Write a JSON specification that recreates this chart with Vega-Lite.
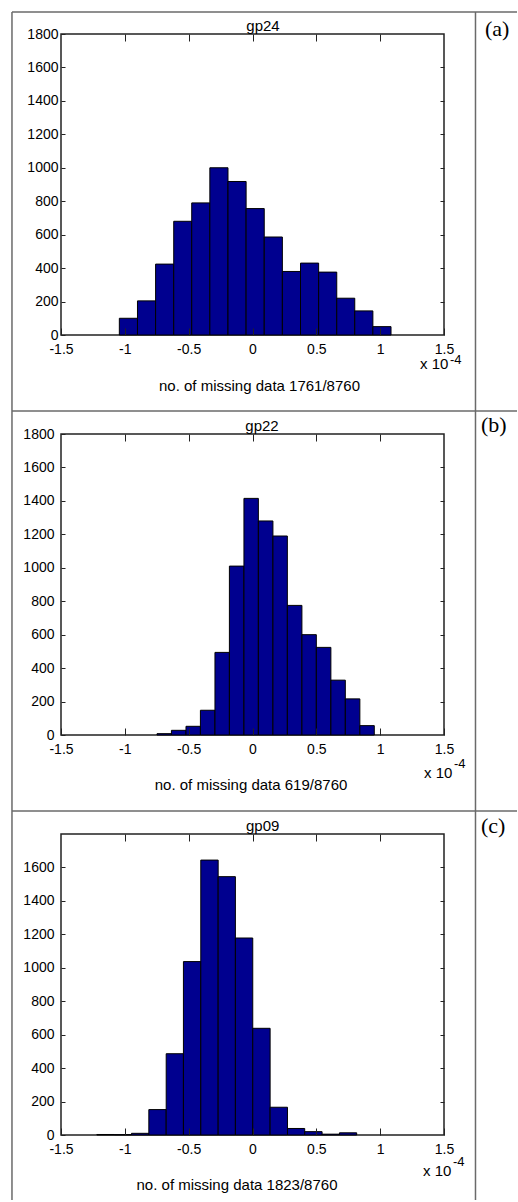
{
  "$schema": "https://vega.github.io/schema/vega-lite/v6.json",
  "background": "white",
  "padding": {"left": 10, "top": 10, "right": 0, "bottom": 0},
  "autosize": {"type": "pad"},
  "bounds": "flush",
  "spacing": 99,
  "datasets": {
    "gp24": [
      {"bin_start": -1.043, "bin_end": -0.901, "count": 100},
      {"bin_start": -0.901, "bin_end": -0.759, "count": 204},
      {"bin_start": -0.759, "bin_end": -0.617, "count": 424},
      {"bin_start": -0.617, "bin_end": -0.476, "count": 680},
      {"bin_start": -0.476, "bin_end": -0.334, "count": 790},
      {"bin_start": -0.334, "bin_end": -0.192, "count": 1000},
      {"bin_start": -0.192, "bin_end": -0.05, "count": 918},
      {"bin_start": -0.05, "bin_end": 0.092, "count": 756},
      {"bin_start": 0.092, "bin_end": 0.234, "count": 586},
      {"bin_start": 0.234, "bin_end": 0.376, "count": 380},
      {"bin_start": 0.376, "bin_end": 0.518, "count": 430},
      {"bin_start": 0.518, "bin_end": 0.66, "count": 376},
      {"bin_start": 0.66, "bin_end": 0.801, "count": 220},
      {"bin_start": 0.801, "bin_end": 0.943, "count": 144},
      {"bin_start": 0.943, "bin_end": 1.085, "count": 50}
    ],
    "gp22": [
      {"bin_start": -0.748, "bin_end": -0.635, "count": 8},
      {"bin_start": -0.635, "bin_end": -0.521, "count": 28},
      {"bin_start": -0.521, "bin_end": -0.408, "count": 52},
      {"bin_start": -0.408, "bin_end": -0.294, "count": 148},
      {"bin_start": -0.294, "bin_end": -0.181, "count": 494},
      {"bin_start": -0.181, "bin_end": -0.067, "count": 1010},
      {"bin_start": -0.067, "bin_end": 0.046, "count": 1415},
      {"bin_start": 0.046, "bin_end": 0.16, "count": 1280},
      {"bin_start": 0.16, "bin_end": 0.273, "count": 1190},
      {"bin_start": 0.273, "bin_end": 0.387, "count": 775},
      {"bin_start": 0.387, "bin_end": 0.5, "count": 600},
      {"bin_start": 0.5, "bin_end": 0.614, "count": 524},
      {"bin_start": 0.614, "bin_end": 0.727, "count": 328},
      {"bin_start": 0.727, "bin_end": 0.841, "count": 216},
      {"bin_start": 0.841, "bin_end": 0.954, "count": 56}
    ],
    "gp09": [
      {"bin_start": -1.219, "bin_end": -1.083, "count": 3},
      {"bin_start": -1.083, "bin_end": -0.948, "count": 2},
      {"bin_start": -0.948, "bin_end": -0.812, "count": 10},
      {"bin_start": -0.812, "bin_end": -0.676, "count": 152},
      {"bin_start": -0.676, "bin_end": -0.541, "count": 486},
      {"bin_start": -0.541, "bin_end": -0.405, "count": 1037},
      {"bin_start": -0.405, "bin_end": -0.269, "count": 1644},
      {"bin_start": -0.269, "bin_end": -0.134, "count": 1545},
      {"bin_start": -0.134, "bin_end": 0.002, "count": 1178},
      {"bin_start": 0.002, "bin_end": 0.138, "count": 638},
      {"bin_start": 0.138, "bin_end": 0.274, "count": 166},
      {"bin_start": 0.274, "bin_end": 0.409, "count": 39},
      {"bin_start": 0.409, "bin_end": 0.545, "count": 20},
      {"bin_start": 0.545, "bin_end": 0.681, "count": 5},
      {"bin_start": 0.681, "bin_end": 0.816, "count": 13}
    ]
  },
  "vconcat": [
    {
      "width": 383, "height": 301,
      "data": {"name": "gp24"},
      "layer": [
        {"mark": {"type": "bar", "fill": "#00008f", "stroke": "#000000", "strokeWidth": 1},
         "encoding": {
           "x": {"field": "bin_start", "type": "quantitative", "scale": {"domain": [-1.5, 1.5], "nice": false, "zero": false},
                 "axis": {"orient": "bottom", "values": [-1.5, -1, -0.5, 0, 0.5, 1, 1.5], "labelExpr": "'' + datum.value", "tickSize": -7, "labelPadding": 14, "title": null, "zindex": 1}},
           "x2": {"field": "bin_end"},
           "y": {"field": "count", "type": "quantitative", "scale": {"domain": [0, 1800], "nice": false, "zero": false},
                 "axis": {"orient": "left", "values": [0, 200, 400, 600, 800, 1000, 1200, 1400, 1600, 1800], "labelExpr": "datum.value == 0 ? '0\u00a0\u00a0\u00a0' : '' + datum.value", "tickSize": -4, "labelPadding": 7, "title": null, "zindex": 1}},
           "y2": {"datum": 0}
         }},
        {"mark": {"type": "bar", "opacity": 0},
         "encoding": {
           "x": {"field": "bin_start", "type": "quantitative", "scale": {"domain": [-1.5, 1.5], "nice": false, "zero": false},
                 "axis": {"orient": "top", "values": [-1, -0.5, 0, 0.5, 1], "labels": false, "tickSize": -7, "title": null, "zindex": 1}},
           "x2": {"field": "bin_end"},
           "y": {"field": "count", "type": "quantitative", "scale": {"domain": [0, 1800], "nice": false, "zero": false},
                 "axis": {"orient": "right", "values": [200, 400, 600, 800, 1000, 1200, 1400, 1600], "labels": false, "tickSize": -4, "title": null, "zindex": 1}},
           "y2": {"datum": 0}
         }},
        {"data": {"values": [{}]}, "mark": {"type": "rule", "color": "#6a6a6a", "strokeWidth": 1.5},
         "encoding": {"x": {"datum": -1.884, "type": "quantitative", "scale": {"domain": [-1.5, 1.5], "nice": false, "zero": false}, "axis": null}, "x2": {"datum": 2.072},
                      "y": {"datum": 1931.6, "type": "quantitative", "scale": {"domain": [0, 1800], "nice": false, "zero": false}, "axis": null}}},
        {"data": {"values": [{}]}, "mark": {"type": "rule", "color": "#6a6a6a", "strokeWidth": 1.5},
         "encoding": {"x": {"datum": -1.884, "type": "quantitative", "scale": {"domain": [-1.5, 1.5], "nice": false, "zero": false}, "axis": null},
                      "y": {"datum": 1931.6, "type": "quantitative", "scale": {"domain": [0, 1800], "nice": false, "zero": false}, "axis": null}, "y2": {"datum": -454.5}}},
        {"data": {"values": [{}]}, "mark": {"type": "rule", "color": "#6a6a6a", "strokeWidth": 1.5},
         "encoding": {"x": {"datum": 1.7467, "type": "quantitative", "scale": {"domain": [-1.5, 1.5], "nice": false, "zero": false}, "axis": null},
                      "y": {"datum": 1931.6, "type": "quantitative", "scale": {"domain": [0, 1800], "nice": false, "zero": false}, "axis": null}, "y2": {"datum": -454.5}}},
        {"data": {"values": [{}]}, "mark": {"type": "text", "text": "gp24", "font": "Liberation Sans", "fontSize": 15, "align": "center", "baseline": "alphabetic", "color": "#000"},
         "encoding": {"x": {"datum": 0.0822, "type": "quantitative", "scale": {"domain": [-1.5, 1.5], "nice": false, "zero": false}, "axis": null},
                      "y": {"datum": 1817.9, "type": "quantitative", "scale": {"domain": [0, 1800], "nice": false, "zero": false}, "axis": null}}},
        {"data": {"values": [{}]}, "mark": {"type": "text", "text": "(a)", "font": "Liberation Serif", "fontSize": 22, "align": "left", "baseline": "alphabetic", "color": "#000"},
         "encoding": {"x": {"datum": 1.8211, "type": "quantitative", "scale": {"domain": [-1.5, 1.5], "nice": false, "zero": false}, "axis": null},
                      "y": {"datum": 1788, "type": "quantitative", "scale": {"domain": [0, 1800], "nice": false, "zero": false}, "axis": null}}},
        {"data": {"values": [{}]}, "mark": {"type": "text", "text": "x 10", "font": "Liberation Sans", "fontSize": 15, "align": "left", "baseline": "alphabetic", "color": "#000"},
         "encoding": {"x": {"datum": 1.312, "type": "quantitative", "scale": {"domain": [-1.5, 1.5], "nice": false, "zero": false}, "axis": null},
                      "y": {"datum": -203.3, "type": "quantitative", "scale": {"domain": [0, 1800], "nice": false, "zero": false}, "axis": null}}},
        {"data": {"values": [{}]}, "mark": {"type": "text", "text": "-4", "font": "Liberation Sans", "fontSize": 13, "align": "left", "baseline": "alphabetic", "color": "#000"},
         "encoding": {"x": {"datum": 1.547, "type": "quantitative", "scale": {"domain": [-1.5, 1.5], "nice": false, "zero": false}, "axis": null},
                      "y": {"datum": -173.4, "type": "quantitative", "scale": {"domain": [0, 1800], "nice": false, "zero": false}, "axis": null}}},
        {"data": {"values": [{}]}, "mark": {"type": "text", "text": "no. of missing data 1761/8760", "font": "Liberation Sans", "fontSize": 15, "align": "center", "baseline": "alphabetic", "color": "#000"},
         "encoding": {"x": {"datum": 0.0548, "type": "quantitative", "scale": {"domain": [-1.5, 1.5], "nice": false, "zero": false}, "axis": null},
                      "y": {"datum": -334.9, "type": "quantitative", "scale": {"domain": [0, 1800], "nice": false, "zero": false}, "axis": null}}}
      ],
      "resolve": {"axis": {"x": "independent", "y": "independent"}}
    },
    {
      "width": 383, "height": 301,
      "data": {"name": "gp22"},
      "layer": [
        {"mark": {"type": "bar", "fill": "#00008f", "stroke": "#000000", "strokeWidth": 1},
         "encoding": {
           "x": {"field": "bin_start", "type": "quantitative", "scale": {"domain": [-1.5, 1.5], "nice": false, "zero": false},
                 "axis": {"orient": "bottom", "values": [-1.5, -1, -0.5, 0, 0.5, 1, 1.5], "labelExpr": "'' + datum.value", "tickSize": -7, "labelPadding": 14, "title": null, "zindex": 1}},
           "x2": {"field": "bin_end"},
           "y": {"field": "count", "type": "quantitative", "scale": {"domain": [0, 1800], "nice": false, "zero": false},
                 "axis": {"orient": "left", "values": [0, 200, 400, 600, 800, 1000, 1200, 1400, 1600, 1800], "labelExpr": "datum.value == 0 ? '0\u00a0\u00a0\u00a0' : '' + datum.value", "tickSize": -4, "labelPadding": 11, "title": null, "zindex": 1}},
           "y2": {"datum": 0}
         }},
        {"mark": {"type": "bar", "opacity": 0},
         "encoding": {
           "x": {"field": "bin_start", "type": "quantitative", "scale": {"domain": [-1.5, 1.5], "nice": false, "zero": false},
                 "axis": {"orient": "top", "values": [-1, -0.5, 0, 0.5, 1], "labels": false, "tickSize": -7, "title": null, "zindex": 1}},
           "x2": {"field": "bin_end"},
           "y": {"field": "count", "type": "quantitative", "scale": {"domain": [0, 1800], "nice": false, "zero": false},
                 "axis": {"orient": "right", "values": [200, 400, 600, 800, 1000, 1200, 1400, 1600], "labels": false, "tickSize": -4, "title": null, "zindex": 1}},
           "y2": {"datum": 0}
         }},
        {"data": {"values": [{}]}, "mark": {"type": "rule", "color": "#6a6a6a", "strokeWidth": 1.5},
         "encoding": {"x": {"datum": -1.884, "type": "quantitative", "scale": {"domain": [-1.5, 1.5], "nice": false, "zero": false}, "axis": null}, "x2": {"datum": 2.072},
                      "y": {"datum": 1937.5, "type": "quantitative", "scale": {"domain": [0, 1800], "nice": false, "zero": false}, "axis": null}}},
        {"data": {"values": [{}]}, "mark": {"type": "rule", "color": "#6a6a6a", "strokeWidth": 1.5},
         "encoding": {"x": {"datum": -1.884, "type": "quantitative", "scale": {"domain": [-1.5, 1.5], "nice": false, "zero": false}, "axis": null},
                      "y": {"datum": 1937.5, "type": "quantitative", "scale": {"domain": [0, 1800], "nice": false, "zero": false}, "axis": null}, "y2": {"datum": -454.5}}},
        {"data": {"values": [{}]}, "mark": {"type": "rule", "color": "#6a6a6a", "strokeWidth": 1.5},
         "encoding": {"x": {"datum": 1.7467, "type": "quantitative", "scale": {"domain": [-1.5, 1.5], "nice": false, "zero": false}, "axis": null},
                      "y": {"datum": 1937.5, "type": "quantitative", "scale": {"domain": [0, 1800], "nice": false, "zero": false}, "axis": null}, "y2": {"datum": -454.5}}},
        {"data": {"values": [{}]}, "mark": {"type": "text", "text": "gp22", "font": "Liberation Sans", "fontSize": 15, "align": "center", "baseline": "alphabetic", "color": "#000"},
         "encoding": {"x": {"datum": 0.0744, "type": "quantitative", "scale": {"domain": [-1.5, 1.5], "nice": false, "zero": false}, "axis": null},
                      "y": {"datum": 1817.9, "type": "quantitative", "scale": {"domain": [0, 1800], "nice": false, "zero": false}, "axis": null}}},
        {"data": {"values": [{}]}, "mark": {"type": "text", "text": "(b)", "font": "Liberation Serif", "fontSize": 22, "align": "left", "baseline": "alphabetic", "color": "#000"},
         "encoding": {"x": {"datum": 1.7898, "type": "quantitative", "scale": {"domain": [-1.5, 1.5], "nice": false, "zero": false}, "axis": null},
                      "y": {"datum": 1812, "type": "quantitative", "scale": {"domain": [0, 1800], "nice": false, "zero": false}, "axis": null}}},
        {"data": {"values": [{}]}, "mark": {"type": "text", "text": "x 10", "font": "Liberation Sans", "fontSize": 15, "align": "left", "baseline": "alphabetic", "color": "#000"},
         "encoding": {"x": {"datum": 1.3433, "type": "quantitative", "scale": {"domain": [-1.5, 1.5], "nice": false, "zero": false}, "axis": null},
                      "y": {"datum": -255.4, "type": "quantitative", "scale": {"domain": [0, 1800], "nice": false, "zero": false}, "axis": null}}},
        {"data": {"values": [{}]}, "mark": {"type": "text", "text": "-4", "font": "Liberation Sans", "fontSize": 13, "align": "left", "baseline": "alphabetic", "color": "#000"},
         "encoding": {"x": {"datum": 1.5783, "type": "quantitative", "scale": {"domain": [-1.5, 1.5], "nice": false, "zero": false}, "axis": null},
                      "y": {"datum": -195.6, "type": "quantitative", "scale": {"domain": [0, 1800], "nice": false, "zero": false}, "axis": null}}},
        {"data": {"values": [{}]}, "mark": {"type": "text", "text": "no. of missing data 619/8760", "font": "Liberation Sans", "fontSize": 15, "align": "center", "baseline": "alphabetic", "color": "#000"},
         "encoding": {"x": {"datum": -0.0117, "type": "quantitative", "scale": {"domain": [-1.5, 1.5], "nice": false, "zero": false}, "axis": null},
                      "y": {"datum": -328.9, "type": "quantitative", "scale": {"domain": [0, 1800], "nice": false, "zero": false}, "axis": null}}}
      ],
      "resolve": {"axis": {"x": "independent", "y": "independent"}}
    },
    {
      "width": 383, "height": 301,
      "data": {"name": "gp09"},
      "layer": [
        {"mark": {"type": "bar", "fill": "#00008f", "stroke": "#000000", "strokeWidth": 1},
         "encoding": {
           "x": {"field": "bin_start", "type": "quantitative", "scale": {"domain": [-1.5, 1.5], "nice": false, "zero": false},
                 "axis": {"orient": "bottom", "values": [-1.5, -1, -0.5, 0, 0.5, 1, 1.5], "labelExpr": "'' + datum.value", "tickSize": -7, "labelPadding": 14, "title": null, "zindex": 1}},
           "x2": {"field": "bin_end"},
           "y": {"field": "count", "type": "quantitative", "scale": {"domain": [0, 1800], "nice": false, "zero": false},
                 "axis": {"orient": "left", "values": [0, 200, 400, 600, 800, 1000, 1200, 1400, 1600], "labelExpr": "datum.value == 0 ? '0\u00a0\u00a0\u00a0' : '' + datum.value", "tickSize": -4, "labelPadding": 11, "title": null, "zindex": 1}},
           "y2": {"datum": 0}
         }},
        {"mark": {"type": "bar", "opacity": 0},
         "encoding": {
           "x": {"field": "bin_start", "type": "quantitative", "scale": {"domain": [-1.5, 1.5], "nice": false, "zero": false},
                 "axis": {"orient": "top", "values": [-1, -0.5, 0, 0.5, 1], "labels": false, "tickSize": -7, "title": null, "zindex": 1}},
           "x2": {"field": "bin_end"},
           "y": {"field": "count", "type": "quantitative", "scale": {"domain": [0, 1800], "nice": false, "zero": false},
                 "axis": {"orient": "right", "values": [200, 400, 600, 800, 1000, 1200, 1400, 1600], "labels": false, "tickSize": -4, "title": null, "zindex": 1}},
           "y2": {"datum": 0}
         }},
        {"data": {"values": [{}]}, "mark": {"type": "rule", "color": "#6a6a6a", "strokeWidth": 1.5},
         "encoding": {"x": {"datum": -1.884, "type": "quantitative", "scale": {"domain": [-1.5, 1.5], "nice": false, "zero": false}, "axis": null}, "x2": {"datum": 2.072},
                      "y": {"datum": 1937.5, "type": "quantitative", "scale": {"domain": [0, 1800], "nice": false, "zero": false}, "axis": null}}},
        {"data": {"values": [{}]}, "mark": {"type": "rule", "color": "#6a6a6a", "strokeWidth": 1.5},
         "encoding": {"x": {"datum": -1.884, "type": "quantitative", "scale": {"domain": [-1.5, 1.5], "nice": false, "zero": false}, "axis": null},
                      "y": {"datum": 1937.5, "type": "quantitative", "scale": {"domain": [0, 1800], "nice": false, "zero": false}, "axis": null}, "y2": {"datum": -388.7}}},
        {"data": {"values": [{}]}, "mark": {"type": "rule", "color": "#6a6a6a", "strokeWidth": 1.5},
         "encoding": {"x": {"datum": 1.7467, "type": "quantitative", "scale": {"domain": [-1.5, 1.5], "nice": false, "zero": false}, "axis": null},
                      "y": {"datum": 1937.5, "type": "quantitative", "scale": {"domain": [0, 1800], "nice": false, "zero": false}, "axis": null}, "y2": {"datum": -388.7}}},
        {"data": {"values": [{}]}, "mark": {"type": "text", "text": "gp09", "font": "Liberation Sans", "fontSize": 15, "align": "center", "baseline": "alphabetic", "color": "#000"},
         "encoding": {"x": {"datum": 0.0799, "type": "quantitative", "scale": {"domain": [-1.5, 1.5], "nice": false, "zero": false}, "axis": null},
                      "y": {"datum": 1817.9, "type": "quantitative", "scale": {"domain": [0, 1800], "nice": false, "zero": false}, "axis": null}}},
        {"data": {"values": [{}]}, "mark": {"type": "text", "text": "(c)", "font": "Liberation Serif", "fontSize": 22, "align": "left", "baseline": "alphabetic", "color": "#000"},
         "encoding": {"x": {"datum": 1.7898, "type": "quantitative", "scale": {"domain": [-1.5, 1.5], "nice": false, "zero": false}, "axis": null},
                      "y": {"datum": 1803, "type": "quantitative", "scale": {"domain": [0, 1800], "nice": false, "zero": false}, "axis": null}}},
        {"data": {"values": [{}]}, "mark": {"type": "text", "text": "x 10", "font": "Liberation Sans", "fontSize": 15, "align": "left", "baseline": "alphabetic", "color": "#000"},
         "encoding": {"x": {"datum": 1.3355, "type": "quantitative", "scale": {"domain": [-1.5, 1.5], "nice": false, "zero": false}, "axis": null},
                      "y": {"datum": -245.2, "type": "quantitative", "scale": {"domain": [0, 1800], "nice": false, "zero": false}, "axis": null}}},
        {"data": {"values": [{}]}, "mark": {"type": "text", "text": "-4", "font": "Liberation Sans", "fontSize": 13, "align": "left", "baseline": "alphabetic", "color": "#000"},
         "encoding": {"x": {"datum": 1.5705, "type": "quantitative", "scale": {"domain": [-1.5, 1.5], "nice": false, "zero": false}, "axis": null},
                      "y": {"datum": -185.4, "type": "quantitative", "scale": {"domain": [0, 1800], "nice": false, "zero": false}, "axis": null}}},
        {"data": {"values": [{}]}, "mark": {"type": "text", "text": "no. of missing data 1823/8760", "font": "Liberation Sans", "fontSize": 15, "align": "center", "baseline": "alphabetic", "color": "#000"},
         "encoding": {"x": {"datum": -0.1214, "type": "quantitative", "scale": {"domain": [-1.5, 1.5], "nice": false, "zero": false}, "axis": null},
                      "y": {"datum": -328.9, "type": "quantitative", "scale": {"domain": [0, 1800], "nice": false, "zero": false}, "axis": null}}}
      ],
      "resolve": {"axis": {"x": "independent", "y": "independent"}}
    }
  ],
  "config": {
    "view": {"stroke": "#222222", "strokeWidth": 1.5},
    "axis": {"domain": false, "grid": false, "tickColor": "#222222", "tickWidth": 1, "labelColor": "#000000", "labelFont": "Liberation Sans", "labelFontSize": 14, "labelFlush": false, "labelOverlap": false, "labelBound": false}
  }
}
